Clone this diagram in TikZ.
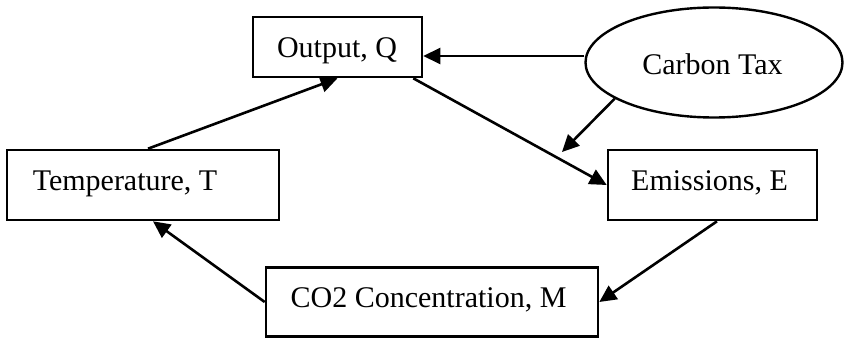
\documentclass[tikz,border=0pt]{standalone}
\usepackage{fontspec}
\setmainfont{Liberation Serif}
\usetikzlibrary{arrows.meta,shapes.geometric}
\tikzset{
  boxnode/.style={draw, line width=2.6pt, rectangle, inner sep=0pt},
  ellnode/.style={draw, line width=2.4pt, ellipse, inner sep=0pt},
  lbl/.style={anchor=base, inner sep=0pt, font=\fontsize{30}{36}\selectfont},
  arr/.style={line width=2.6pt, -{Triangle[length=17pt,width=16pt]}},
  ln/.style={line width=2.6pt}
}
\begin{document}
\begin{tikzpicture}[x=1pt,y=-1pt]
\useasboundingbox (0,0) rectangle (845,339);
% boxes
\node[boxnode, minimum width=169pt, minimum height=60pt] (Q) at (337.5,47) {};
\node[ellnode, minimum width=257pt, minimum height=110pt] (C) at (714,62.5) {};
\node[boxnode, minimum width=272pt, minimum height=70pt] (T) at (143,185) {};
\node[boxnode, minimum width=209pt, minimum height=70pt] (E) at (712.5,185) {};
\node[boxnode, minimum width=332pt, minimum height=69pt] (M) at (432,302) {};
% labels
\node[lbl] (Qt) at (337,58) {Output, Q};
\node[lbl] (Ct) at (712.5,75) {Carbon Tax};
\node[lbl] (Tt) at (125,190) {Temperature, T};
\node[lbl] (Et) at (709.5,190) {Emissions, E};
\node[lbl] (Mt) at (428.5,307) {CO2 Concentration, M};
% connectors
\coordinate (qe) at ([yshift=-9pt]Q.east);
\coordinate (tx) at (562,152);
\draw[arr] (C.west |- qe) -- (qe);
\draw[arr] ([xshift=5pt]T.north) -- (Q.south);
\draw[arr] ([xshift=-10pt]Q.south east) -- (E.west);
\draw[arr] (C.200.6) -- (tx);
\draw[arr] ([xshift=4.5pt]E.south) -- (M.east);
\draw[arr] (M.west) -- ([xshift=10pt]T.south);
\end{tikzpicture}
\end{document}
